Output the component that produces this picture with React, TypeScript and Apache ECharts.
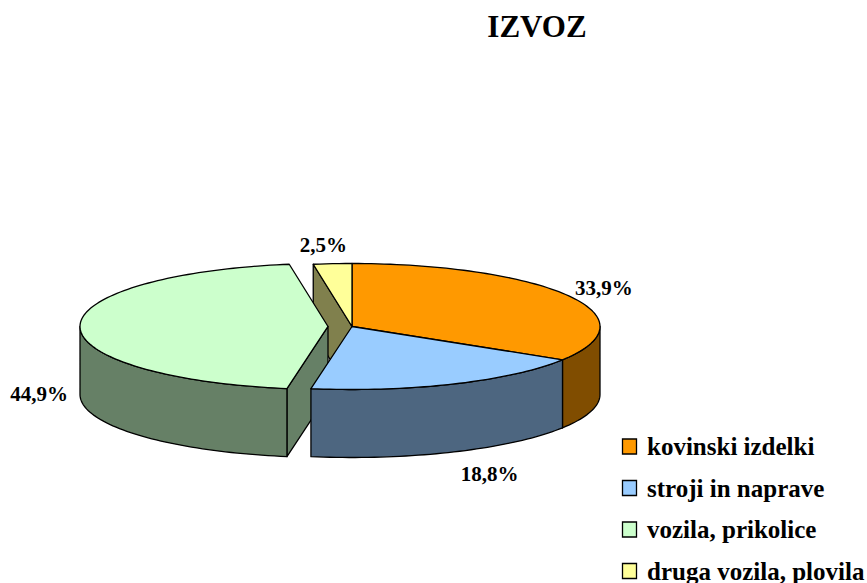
import React, { useEffect, useRef } from "react";
import * as echarts from "echarts";

// ---- data ----
const TITLE = "IZVOZ";
const CATEGORIES = [
  "kovinski izdelki",
  "stroji in naprave",
  "vozila, prikolice",
  "druga vozila, plovila",
];
const VALUES = [33.9, 18.8, 44.9, 2.5];
const EXPLODED = ["vozila, prikolice"];

// ---- styles ----
const TOP_COLORS = ["#FF9900", "#99CCFF", "#CCFFCC", "#FFFF99"];
const SIDE_COLORS = ["#804D00", "#4D6680", "#668066", "#80804D"];
const FONT = '"Liberation Serif", "Times New Roman", serif';

// ---- geometry of the 3D pie ----
const CX = 352;
const CY = 326.5;
const RX = 248;
const RY = 63;
const DEPTH = 68;
const EXPLODE = 24;

const TOTAL = VALUES.reduce((a, b) => a + b, 0);
const CUM: number[] = [];
VALUES.reduce((acc, v, i) => {
  CUM[i] = acc;
  return acc + v;
}, 0);

function fmt(v: number) {
  return v.toFixed(1).replace(".", ",") + "%";
}

export default function App() {
  const ref = useRef<HTMLDivElement>(null);

  useEffect(() => {
    if (!ref.current) return;
    const chart = echarts.init(ref.current, undefined, { renderer: "svg" });

    const stroke = { stroke: "#000", lineWidth: 1.3, lineJoin: "round" as const };

    const renderItem = (params: any, api: any) => {
      const i = params.dataIndex;
      const v = api.value(0);
      const a1 = (CUM[i] / TOTAL) * Math.PI * 2;
      const a2 = ((CUM[i] + v) / TOTAL) * Math.PI * 2;
      const mid = (a1 + a2) / 2;
      const name = CATEGORIES[i];
      const ex = EXPLODED.indexOf(name) >= 0 ? EXPLODE : 0;
      const ox = ex * Math.sin(mid);
      const oy = -ex * (RY / RX) * Math.cos(mid);
      const cx = CX + ox;
      const cy = CY + oy;
      const pt = (t: number, dy = 0) => [
        cx + RX * Math.sin(t),
        cy - RY * Math.cos(t) + dy,
      ];
      const arc = (t1: number, t2: number, dy = 0) => {
        const pts: number[][] = [];
        const n = Math.max(2, Math.ceil(Math.abs(t2 - t1) / (Math.PI / 120)));
        for (let k = 0; k <= n; k++) pts.push(pt(t1 + ((t2 - t1) * k) / n, dy));
        return pts;
      };
      const children: any[] = [];

      // cut faces
      const face = (t: number) => {
        const r = pt(t);
        const meanY = (cy + r[1]) / 2;
        children.push({
          type: "polygon",
          shape: { points: [[cx, cy], r, pt(t, DEPTH), [cx, cy + DEPTH]] },
          style: { fill: SIDE_COLORS[i], ...stroke },
          z2: 1 + meanY / 1000,
        });
      };
      if (-Math.sin(a1) > 1e-6) face(a1);
      if (Math.sin(a2) > 1e-6) face(a2);

      // outer side wall (front half only)
      const s1 = Math.max(a1, Math.PI / 2);
      const s2 = Math.min(a2, (Math.PI * 3) / 2);
      if (s2 > s1) {
        const top = arc(s1, s2);
        const bottom = arc(s2, s1, DEPTH);
        children.push({
          type: "polygon",
          shape: { points: top.concat(bottom) },
          style: { fill: SIDE_COLORS[i], ...stroke },
          z2: 2,
        });
      }

      // top face
      children.push({
        type: "polygon",
        shape: { points: [[cx, cy]].concat(arc(a1, a2)) },
        style: { fill: TOP_COLORS[i], ...stroke },
        z2: 3,
      });

      // label
      const front = Math.max(0, -Math.cos(mid));
      const back = Math.max(0, Math.cos(mid));
      const lx = cx + (RX + 41 + 50 * front) * Math.sin(mid) - 6 * back * back * back;
      const ly =
        cy -
        (RY + 15 + 10 * front + 4 * back * back * back) * Math.cos(mid) +
        (Math.cos(mid) < 0.05 ? DEPTH : 0);
      children.push({
        type: "text",
        x: lx,
        y: ly,
        style: {
          text: fmt(v),
          font: "bold 21px " + FONT,
          fill: "#000",
          align: "center",
          verticalAlign: "middle",
          textAlign: "center",
          textVerticalAlign: "middle",
        },
        z2: 4,
      });

      return { type: "group", children };
    };

    const LEG_X = 622.5;
    const LEG_Y0 = 446.5;
    const LEG_STEP = 41.5;
    const legendEls: any[] = [];
    CATEGORIES.forEach((c, i) => {
      const y = LEG_Y0 + i * LEG_STEP;
      legendEls.push({
        type: "rect",
        shape: { x: LEG_X, y: y - 7.5, width: 14, height: 15 },
        style: { fill: TOP_COLORS[i], stroke: "#000", lineWidth: 1.3 },
      });
      legendEls.push({
        type: "text",
        x: 647,
        y: y,
        style: {
          text: c,
          font: "bold 25px " + FONT,
          fill: "#000",
          align: "left",
          verticalAlign: "middle",
          textAlign: "left",
          textVerticalAlign: "middle",
        },
      });
    });

    chart.setOption({
      animation: false,
      backgroundColor: "#fff",
      title: {
        text: TITLE,
        left: 532,
        top: 6,
        textAlign: "center",
        textStyle: {
          fontFamily: FONT,
          fontWeight: "bold",
          fontSize: 31,
          color: "#000",
        },
      },
      graphic: legendEls,
      series: [
        {
          type: "custom",
          name: TITLE,
          coordinateSystem: "none",
          renderItem,
          data: VALUES.map((v, i) => ({ name: CATEGORIES[i], value: v })),
        },
      ],
    });

    return () => chart.dispose();
  }, []);

  return (
    <div
      ref={ref}
      style={{ position: "fixed", left: 0, top: 0, width: 867, height: 583 }}
    />
  );
}
